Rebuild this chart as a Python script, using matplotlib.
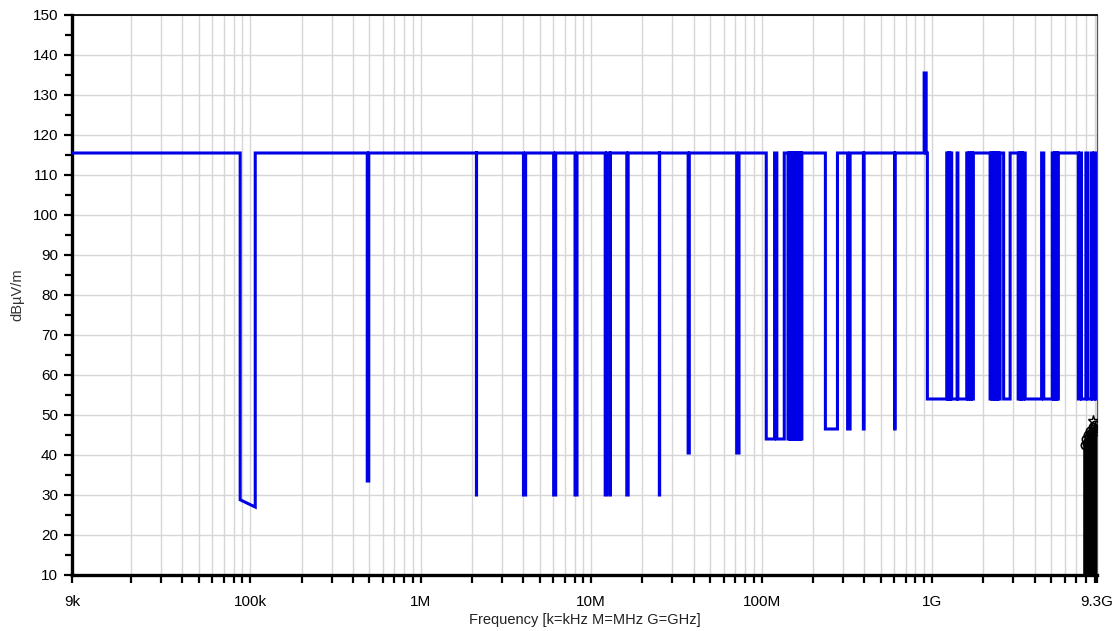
import matplotlib
matplotlib.use("Agg")
import matplotlib.pyplot as plt
from matplotlib.ticker import FixedLocator, NullFormatter, MultipleLocator
import numpy as np

plt.rcParams['font.family'] = ['Liberation Sans', 'DejaVu Sans']

# ---------------- data ----------------
# blue limit/scan trace, vertices of a polyline (frequency in MHz, level in dBuV/m)
blue_freq_mhz = [
    0.009, 0.0873, 0.0873, 0.107, 0.107,
    0.486, 0.486, 0.496, 0.496,
    2.124, 2.124, 2.128, 2.128,
    4.01, 4.01, 4.13, 4.13,
    6.03, 6.03, 6.2, 6.2,
    8.05, 8.05, 8.27, 8.27,
    12.1, 12.1, 12.35, 12.35,
    12.9, 12.9, 12.98, 12.98,
    16.2, 16.2, 16.5, 16.5,
    25.15, 25.15, 25.25, 25.25,
    37.1, 37.1, 37.7, 37.7,
    71.5, 71.5, 73.8, 73.8,
    106.6, 106.6, 119.3, 119.3, 123.0, 123.0, 136.0, 136.0,
    143.0, 143.0, 145.0, 145.0, 147.0, 147.0, 149.0, 149.0, 151.0, 151.0,
    153.0, 153.0, 155.0, 155.0, 157.0, 157.0, 159.0, 159.0, 161.0, 161.0,
    163.0, 163.0, 165.0, 165.0, 167.0, 167.0, 169.0, 169.0, 171.0, 171.0,
    172.5, 172.5,
    237.0, 237.0, 279.0, 279.0,
    320.0, 320.0, 331.0, 331.0,
    396.0, 396.0, 400.0, 400.0,
    604.0, 604.0, 608.0, 608.0,
    900.0, 900.0, 925.0, 925.0, 940.0, 940.0,
    1221.0, 1221.0, 1238.0, 1238.0, 1255.0, 1255.0, 1272.0, 1272.0,
    1289.0, 1289.0, 1306.0, 1306.0,
    1405.0, 1405.0, 1420.0, 1420.0,
    1600.0, 1600.0, 1625.0, 1625.0, 1650.0, 1650.0, 1675.0, 1675.0,
    1700.0, 1700.0, 1725.0, 1725.0, 1750.0, 1750.0,
    2194.0, 2194.0, 2225.0, 2225.0, 2260.0, 2260.0, 2295.0, 2295.0,
    2330.0, 2330.0, 2365.0, 2365.0, 2400.0, 2400.0, 2435.0, 2435.0,
    2470.0, 2470.0, 2512.0, 2512.0,
    2634.0, 2634.0, 2876.0, 2876.0,
    3205.0, 3205.0, 3250.0, 3250.0, 3300.0, 3300.0, 3350.0, 3350.0,
    3400.0, 3400.0, 3450.0, 3450.0, 3525.0, 3525.0,
    4400.0, 4400.0, 4530.0, 4530.0,
    5080.0, 5080.0, 5160.0, 5160.0, 5240.0, 5240.0, 5320.0, 5320.0,
    5400.0, 5400.0, 5460.0, 5460.0, 5510.0, 5510.0,
    7225.0, 7225.0, 7380.0, 7380.0, 7540.0, 7540.0,
    8000.0, 8000.0, 8200.0, 8200.0,
    8600.0, 8600.0, 8750.0, 8750.0, 8950.0, 8950.0, 9150.0, 9150.0,
    9300.0,
]
blue_level = [
    115.5, 115.5, 28.8, 27.0, 115.5,
    115.5, 33.5, 33.5, 115.5,
    115.5, 30.0, 30.0, 115.5,
    115.5, 30.0, 30.0, 115.5,
    115.5, 30.0, 30.0, 115.5,
    115.5, 30.0, 30.0, 115.5,
    115.5, 30.0, 30.0, 115.5,
    115.5, 30.0, 30.0, 115.5,
    115.5, 30.0, 30.0, 115.5,
    115.5, 30.0, 30.0, 115.5,
    115.5, 40.5, 40.5, 115.5,
    115.5, 40.5, 40.5, 115.5,
    115.5, 44.0, 44.0, 115.5, 115.5, 44.0, 44.0, 115.5,
    115.5, 44.0, 44.0, 115.5, 115.5, 44.0, 44.0, 115.5, 115.5, 44.0,
    44.0, 115.5, 115.5, 44.0, 44.0, 115.5, 115.5, 44.0, 44.0, 115.5,
    115.5, 44.0, 44.0, 115.5, 115.5, 44.0, 44.0, 115.5, 115.5, 44.0,
    44.0, 115.5,
    115.5, 46.5, 46.5, 115.5,
    115.5, 46.5, 46.5, 115.5,
    115.5, 46.5, 46.5, 115.5,
    115.5, 46.5, 46.5, 115.5,
    115.5, 135.5, 135.5, 115.5, 115.5, 54.0,
    54.0, 115.5, 115.5, 54.0, 54.0, 115.5, 115.5, 54.0,
    54.0, 115.5, 115.5, 54.0,
    54.0, 115.5, 115.5, 54.0,
    54.0, 115.5, 115.5, 54.0, 54.0, 115.5, 115.5, 54.0,
    54.0, 115.5, 115.5, 54.0, 54.0, 115.5,
    115.5, 54.0, 54.0, 115.5, 115.5, 54.0, 54.0, 115.5,
    115.5, 54.0, 54.0, 115.5, 115.5, 54.0, 54.0, 115.5,
    115.5, 54.0, 54.0, 115.5,
    115.5, 54.0, 54.0, 115.5,
    115.5, 54.0, 54.0, 115.5, 115.5, 54.0, 54.0, 115.5,
    115.5, 54.0, 54.0, 115.5, 115.5, 54.0,
    54.0, 115.5, 115.5, 54.0,
    54.0, 115.5, 115.5, 54.0, 54.0, 115.5, 115.5, 54.0,
    54.0, 115.5, 115.5, 54.0, 54.0, 115.5,
    115.5, 54.0, 54.0, 115.5, 115.5, 54.0,
    54.0, 115.5, 115.5, 54.0,
    54.0, 115.5, 115.5, 54.0, 54.0, 115.5, 115.5, 54.0,
    54.0,
]

# black measured peaks near the top of the band (GHz, dBuV/m)
black_freq_ghz = [7.95, 8.05, 8.12, 8.22, 8.35, 8.48, 8.62, 8.78, 8.93, 9.08, 9.2]
black_level = [42.5, 44.0, 43.0, 45.0, 44.5, 46.0, 45.5, 47.0, 46.5, 47.5, 46.0]
black_star_ghz = [8.85]
black_star_level = [48.5]

x_tick_vals = [9e3, 1e5, 1e6, 1e7, 1e8, 1e9, 9.3e9]
x_tick_labels = ['9k', '100k', '1M', '10M', '100M', '1G', '9.3G']
y_tick_vals = [10, 20, 30, 40, 50, 60, 70, 80, 90, 100, 110, 120, 130, 140, 150]

# ---------------- figure ----------------
W, H = 1115, 631
fig = plt.figure(figsize=(W / 100, H / 100), dpi=100)
ax = fig.add_axes([72 / W, 56 / H, 1025 / W, 560 / H])

ax.set_xscale('log')
ax.set_xlim(9e3, 9.3e9)
ax.set_ylim(10, 150)

minor_x = [m * 10.0 ** e for e in range(3, 10) for m in range(2, 10)]
minor_x = [v for v in minor_x if 9e3 < v < 9.3e9 and v not in x_tick_vals]
ax.xaxis.set_major_locator(FixedLocator(x_tick_vals))
ax.set_xticklabels(x_tick_labels)
ax.xaxis.set_minor_locator(FixedLocator(minor_x))
ax.xaxis.set_minor_formatter(NullFormatter())
ax.yaxis.set_major_locator(FixedLocator(y_tick_vals))
ax.yaxis.set_minor_locator(MultipleLocator(5))

grid_col = '#d6d6d6'
ax.grid(which='both', axis='x', color=grid_col, lw=1.0)
ax.grid(which='major', axis='y', color=grid_col, lw=1.0)
ax.set_axisbelow(True)

ax.plot(np.array(blue_freq_mhz) * 1e6, blue_level, color='#0000e6', lw=2.2,
        solid_joinstyle='miter', zorder=3)

bf = np.array(black_freq_ghz) * 1e9
ax.vlines(bf, 10, black_level, color='black', lw=2.6, zorder=4)
ax.plot(bf, black_level, linestyle='none', marker='o', ms=6, mfc='none',
        mec='black', mew=1.2, zorder=5)
ax.plot(np.array(black_star_ghz) * 1e9, black_star_level, linestyle='none',
        marker='*', ms=8, mfc='none', mec='black', mew=1.0, zorder=5)

for s in ['left', 'bottom']:
    ax.spines[s].set_linewidth(2.4)
    ax.spines[s].set_color('black')
ax.spines['top'].set_linewidth(1.3)
ax.spines['top'].set_color('black')
ax.spines['right'].set_linewidth(0.9)
ax.spines['right'].set_color('#555555')

ax.tick_params(axis='both', which='both', direction='out', color='black')
ax.tick_params(axis='x', which='both', length=5.5, width=1.6, pad=9, labelsize=11)
ax.tick_params(axis='y', which='major', length=6, width=1.6, pad=4, labelsize=11)
ax.tick_params(axis='y', which='minor', length=5, width=1.6)

ax.set_xlabel('Frequency [k=kHz M=MHz G=GHz]', fontsize=10.5, color='#222222', labelpad=3)
ax.set_ylabel('dBµV/m', fontsize=10.5, color='#333333')
ax.yaxis.set_label_coords(-0.046, 0.5)

fig.savefig('out.png', dpi=100)
